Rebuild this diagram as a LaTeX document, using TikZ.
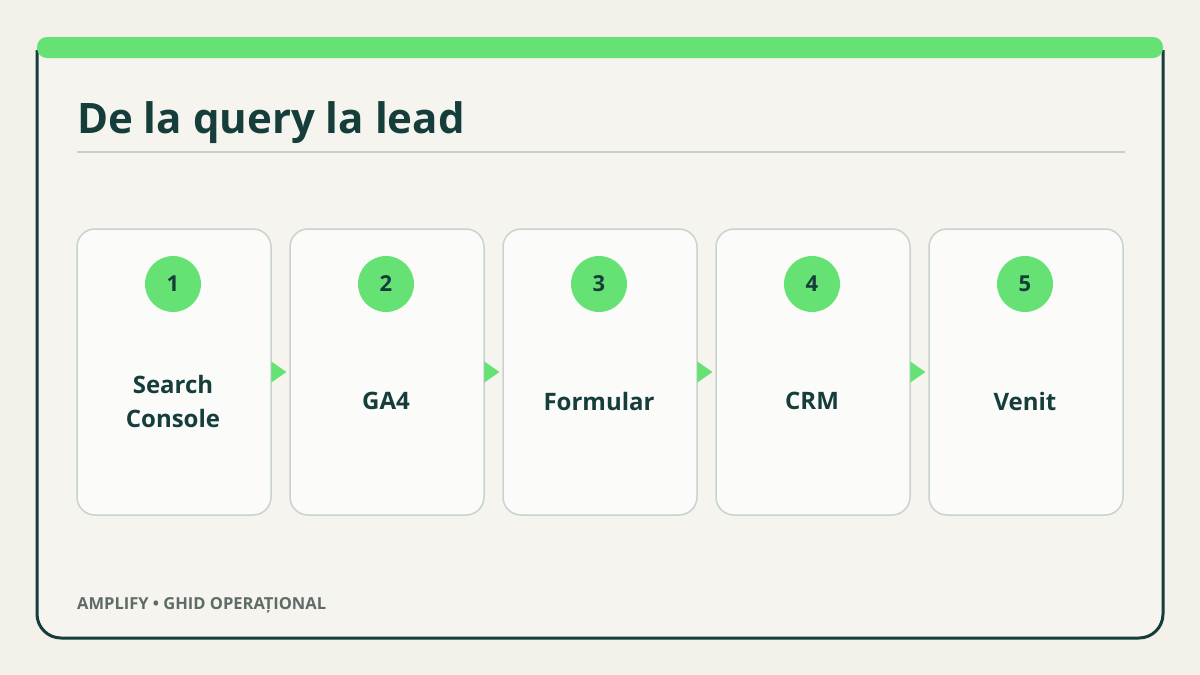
\documentclass[tikz,border=0pt]{standalone}
\usepackage{fontspec}
\setmainfont{Open Sans}
\usetikzlibrary{arrows.meta}
\definecolor{bg}{HTML}{F3F1EA}
\definecolor{cardfill}{HTML}{F5F4EE}
\definecolor{dark}{HTML}{153D3A}
\definecolor{grn}{HTML}{66E275}
\definecolor{boxline}{HTML}{C9D3CE}
\definecolor{boxfill}{HTML}{FBFBFA}
\definecolor{rule}{HTML}{C8D0CB}
\definecolor{foot}{HTML}{5E6B66}
\tikzset{
  stepbox/.style={draw=boxline, line width=1.5pt, fill=boxfill, rounded corners=18pt, minimum width=194pt, minimum height=286pt, inner sep=0pt},
  numdot/.style={circle, fill=grn, minimum size=56pt, inner sep=0pt, text=dark, font=\bfseries\fontsize{22}{26}\selectfont},
  steplabel/.style={text=dark, align=center, font=\bfseries\fontsize{24}{34}\selectfont},
  flow/.style={draw=grn, line width=0.1pt, -{Triangle[length=15pt,width=21pt,fill=grn]}, shorten >=3pt}
}
\begin{document}
\begin{tikzpicture}[x=1pt,y=-1pt]
\useasboundingbox (0,0) rectangle (1200,675);
\fill[bg] (0,0) rectangle (1200,675);
% card
\fill[cardfill, rounded corners=24pt] (37,40) rectangle (1163,638);
\draw[dark, line width=3pt, rounded corners=24pt] (37,50) -- (37,638) -- (1163,638) -- (1163,50);
\fill[grn, rounded corners=10pt] (37,37) rectangle (1163,58);
% title
\node[anchor=base west, inner sep=0pt, text=dark, font=\bfseries\fontsize{42}{48}\selectfont] (title) at (77,133) {De la query la lead};
\draw[rule, line width=2pt] (77,152) -- (1125,152);
% boxes
\foreach \i/\cx/\lab in {1/174/{Search\\Console},2/387/GA4,3/600/Formular,4/813/CRM,5/1026/Venit}{
  \node[stepbox] (b\i) at (\cx,372) {};
  \node[numdot] (n\i) at (\cx-1,284) {\i};
  \node[steplabel] (l\i) at (\cx-1,401) {\lab};
}
\foreach \a/\b in {1/2,2/3,3/4,4/5}{
  \draw[flow] (b\a.east) -- (b\b.west);
}
% footer
\node[anchor=base west, inner sep=0pt, text=foot, font=\bfseries\fontsize{16.5}{20}\selectfont] (footer) at (77,609) {AMPLIFY • GHID OPERAȚIONAL};
\end{tikzpicture}
\end{document}
